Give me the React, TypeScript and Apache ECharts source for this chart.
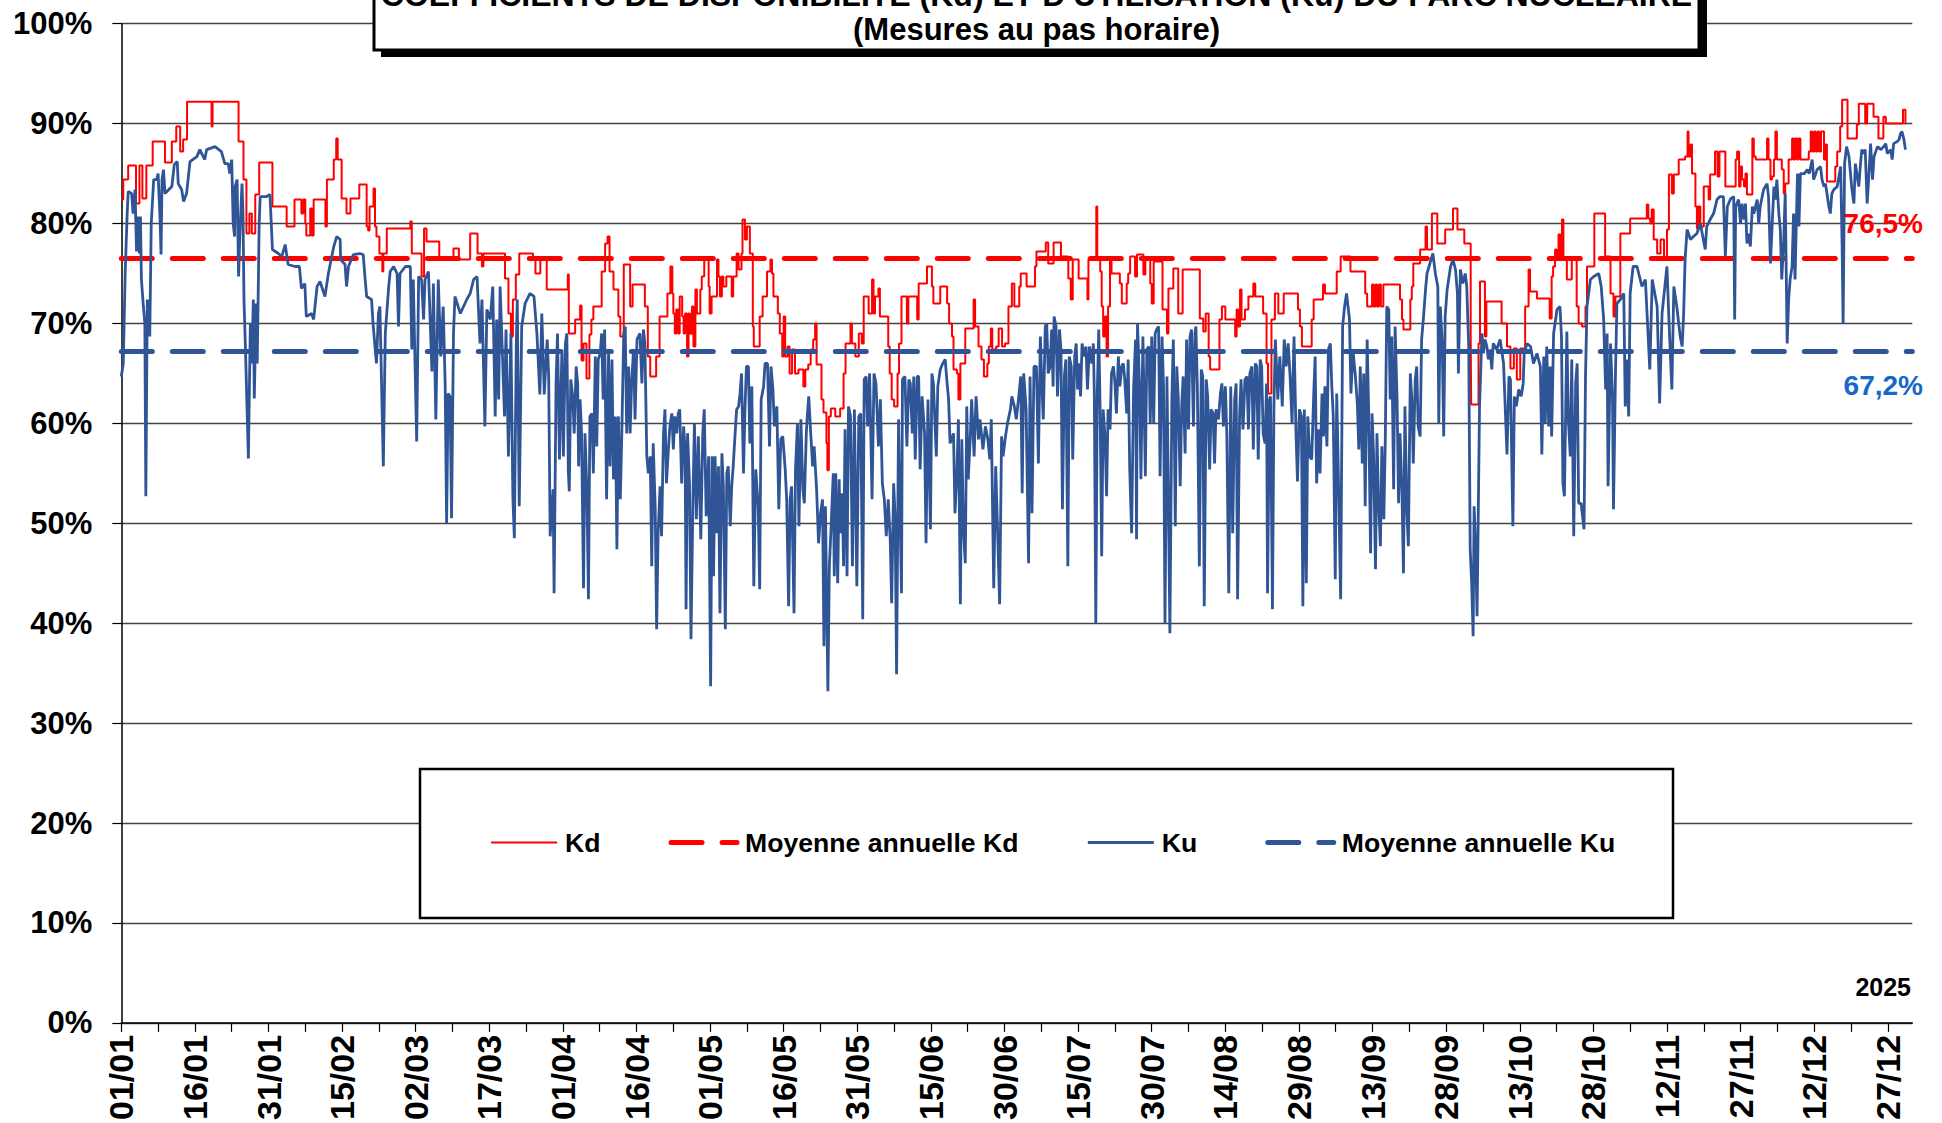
import React, { useEffect, useRef } from 'react';
import * as echarts from 'echarts';

const FONT = "'Liberation Sans', Arial, Helvetica, sans-serif";

const titleLine1 = "COEFFICIENTS DE DISPONIBILITE (Kd) ET D'UTILISATION (Ku) DU PARC NUCLEAIRE";
const titleLine2 = '(Mesures au pas horaire)';
const yearLabel = '2025';

const xTickLabels = ['01/01', '16/01', '31/01', '15/02', '02/03', '17/03', '01/04', '16/04', '01/05', '16/05', '31/05', '15/06', '30/06', '15/07', '30/07', '14/08', '29/08', '13/09', '28/09', '13/10', '28/10', '12/11', '27/11', '12/12', '27/12'];
const yTickValues = [0, 10, 20, 30, 40, 50, 60, 70, 80, 90, 100];

const seriesNames = ['Kd', 'Moyenne annuelle Kd', 'Ku', 'Moyenne annuelle Ku'];
const meanKd = 76.5;
const meanKu = 67.2;

// [day of year, %]
const kdPoints: [number, number][] = [[0,82.4],[0.4,84.4],[1.4,85.8],[3.0,82.0],[3.7,85.8],[4.3,82.5],[5.1,85.8],[6.4,88.2],[8.9,86.1],[10.3,88.2],[11.2,89.7],[12.0,87.2],[12.6,88.4],[13.4,92.2],[18.4,89.7],[18.6,92.2],[23.9,88.2],[24.9,84.4],[25.5,79.0],[26.1,81.0],[26.6,79.0],[27.3,82.9],[28.1,86.1],[30.8,81.7],[33.7,79.7],[35.3,82.4],[36.7,81.0],[37.1,82.4],[37.5,80.0],[37.7,78.8],[38.5,81.5],[38.8,78.8],[39.2,82.4],[41.6,79.7],[41.9,84.4],[43.3,86.4],[43.8,88.5],[44.1,86.4],[44.9,82.5],[45.9,81.0],[46.7,82.5],[48.5,83.9],[50.0,79.7],[50.3,79.3],[50.6,81.7],[51.4,83.5],[51.7,79.7],[52.0,78.7],[52.6,77.0],[53.2,75.2],[53.4,77.0],[54.1,79.5],[58.9,80.2],[59.2,77.0],[61.2,74.7],[61.7,79.5],[62.2,78.2],[64.8,76.4],[67.7,77.5],[68.8,76.4],[71.1,79.0],[72.6,77.0],[73.5,75.7],[73.8,77.0],[78.2,74.5],[78.9,71.0],[79.4,68.7],[79.8,72.4],[80.4,74.9],[81.1,77.0],[83.9,76.4],[84.4,75.0],[85.4,76.4],[86.7,73.4],[91.0,74.9],[91.2,69.0],[92.5,70.4],[93.5,71.8],[93.8,66.3],[94.2,68.0],[94.8,64.5],[95.4,68.9],[95.8,70.4],[96.2,71.7],[97.9,75.2],[98.6,78.0],[99.1,78.7],[99.5,75.2],[100.3,73.4],[101.3,70.7],[101.7,68.7],[102.4,75.9],[103.7,71.7],[104.2,73.9],[106.7,71.7],[107.3,66.7],[107.8,64.7],[109.0,66.7],[109.7,70.7],[111.3,73.0],[111.9,75.7],[112.3,73.0],[112.5,71.0],[112.8,69.0],[113.1,71.4],[113.5,69.0],[113.8,72.7],[114.3,70.7],[114.6,69.0],[114.9,71.0],[115.3,66.7],[115.6,71.0],[115.9,69.0],[116.3,71.7],[116.6,67.7],[117.0,73.4],[117.3,71.0],[118.0,73.4],[118.3,74.7],[118.8,76.4],[119.7,73.7],[119.9,71.0],[120.3,72.7],[121.4,76.4],[121.7,74.7],[122.0,72.7],[122.4,74.7],[122.7,73.7],[123.3,74.7],[124.4,72.7],[124.7,74.7],[125.4,77.0],[125.8,75.4],[126.4,77.0],[126.6,80.4],[127.1,78.4],[127.5,79.7],[128.1,77.0],[128.7,69.7],[128.9,67.7],[130.1,70.7],[130.7,72.7],[131.6,75.2],[132.3,76.4],[132.6,75.0],[132.9,72.7],[133.8,71.0],[134.2,69.0],[134.7,66.7],[135.0,70.7],[135.3,66.7],[135.8,67.7],[136.2,65.0],[136.7,67.4],[137.3,65.0],[138.0,65.4],[139.0,63.7],[139.4,65.4],[140.0,65.9],[140.5,67.4],[141.0,68.4],[141.4,70.0],[141.7,65.9],[142.7,62.4],[143.1,61.1],[143.7,58.0],[143.9,55.3],[144.2,60.7],[144.6,61.5],[145.5,60.7],[146.5,61.5],[147.2,65.0],[147.6,68.0],[148.6,70.0],[148.9,68.0],[149.6,66.7],[150.3,69.0],[150.9,68.0],[151.3,72.7],[152.3,71.0],[153.0,74.4],[153.3,71.0],[153.6,72.7],[154.3,73.5],[154.6,70.7],[156.3,67.7],[156.6,65.0],[157.0,62.4],[157.5,61.7],[158.2,65.0],[158.5,68.0],[159.0,72.7],[160.1,70.0],[160.4,72.7],[162.2,70.4],[162.5,74.0],[164.2,75.7],[165.2,73.7],[165.5,72.0],[166.9,73.7],[168.3,72.0],[168.7,70.0],[169.3,68.7],[169.6,65.4],[170.3,65.0],[170.6,62.4],[171.0,66.0],[172.0,69.5],[173.7,72.4],[174.0,69.7],[174.7,67.7],[175.3,66.4],[175.8,64.7],[176.5,66.0],[176.8,67.7],[177.2,69.5],[177.5,67.4],[178.3,67.7],[178.8,69.5],[179.5,67.7],[180.1,68.0],[180.8,71.7],[181.5,74.0],[182.0,71.7],[183.0,73.7],[183.3,75.0],[184.5,73.7],[186.2,75.7],[186.5,77.2],[188.4,78.1],[188.9,76.0],[190.0,78.1],[191.5,76.7],[193.0,74.5],[193.5,72.4],[193.9,76.4],[195.1,74.5],[196.9,72.4],[197.1,76.4],[198.7,81.7],[198.9,76.4],[199.5,75.2],[199.8,71.7],[200.1,68.7],[200.5,70.7],[200.8,66.7],[201.1,71.7],[201.5,76.2],[201.8,75.0],[203.5,74.0],[203.9,72.0],[204.9,74.0],[205.2,75.0],[205.6,76.7],[206.6,74.7],[207.0,76.9],[208.3,74.9],[208.7,76.4],[209.7,74.0],[210.0,72.0],[210.4,76.2],[212.2,71.4],[213.1,69.0],[213.4,73.5],[214.4,75.5],[215.4,71.0],[216.3,75.4],[219.8,70.5],[220.5,69.2],[221.0,71.0],[221.6,66.7],[221.9,65.4],[223.8,70.4],[224.3,71.7],[225.0,70.4],[227.0,68.7],[227.3,71.4],[227.6,69.7],[228.0,73.4],[228.3,70.4],[229.0,71.4],[229.7,72.7],[230.7,74.0],[231.1,72.7],[232.7,71.0],[233.4,66.0],[233.7,63.0],[234.4,70.4],[235.1,73.0],[235.8,71.0],[236.9,73.0],[239.8,71.4],[240.2,69.7],[240.6,67.7],[242.6,70.4],[243.0,72.4],[244.9,73.9],[245.3,73.0],[247.7,75.2],[248.5,76.7],[250.5,75.2],[253.5,73.0],[253.9,71.7],[254.9,73.9],[255.2,71.7],[255.6,73.9],[255.9,71.7],[256.3,73.9],[256.7,71.7],[257.2,73.9],[260.6,72.4],[261.0,70.4],[261.3,69.4],[262.7,72.4],[263.0,73.7],[263.3,76.0],[264.7,77.4],[265.8,79.7],[266.1,77.4],[267.1,81.0],[268.2,78.0],[269.8,79.4],[271.4,81.5],[272.3,79.4],[273.7,78.0],[275.0,68.7],[275.1,61.9],[276.6,68.0],[276.9,74.2],[277.9,68.7],[278.2,72.2],[281.3,70.0],[282.4,67.7],[283.1,65.5],[283.8,67.5],[284.4,64.4],[285.1,67.5],[286.1,71.7],[286.8,75.4],[287.1,73.2],[288.5,72.5],[291.1,70.5],[291.5,74.7],[291.8,75.7],[292.2,77.4],[292.5,76.4],[292.9,78.9],[293.3,76.7],[293.6,80.4],[293.9,76.4],[294.6,74.4],[295.6,76.4],[296.6,71.7],[297.0,70.0],[297.7,69.7],[298.4,71.7],[298.7,75.7],[300.2,81.0],[302.4,76.7],[303.5,73.0],[304.1,70.7],[304.5,72.7],[305.5,79.0],[307.5,80.5],[310.9,81.9],[311.2,80.5],[311.6,80.0],[311.9,81.4],[312.3,78.4],[313.0,77.0],[313.7,78.4],[314.4,76.4],[315.0,79.4],[315.4,84.9],[316.0,83.0],[316.4,84.9],[317.4,86.4],[318.7,86.7],[319.2,89.2],[319.4,86.7],[319.8,87.9],[320.1,85.0],[320.8,81.7],[321.1,79.5],[321.4,81.7],[321.8,79.7],[322.5,83.7],[323.5,82.4],[323.8,84.9],[324.8,87.2],[325.3,84.7],[325.7,87.2],[326.9,83.7],[329.0,86.4],[329.3,87.2],[329.7,83.7],[330.0,85.7],[330.3,84.4],[330.7,83.7],[331.0,85.0],[331.3,82.9],[332.4,88.5],[332.7,86.7],[333.1,86.4],[335.4,88.5],[335.7,86.4],[336.1,84.4],[336.4,84.7],[336.8,86.4],[337.1,89.2],[337.4,86.4],[338.4,85.4],[338.8,83.0],[339.1,84.0],[339.8,86.4],[340.5,88.5],[340.8,86.4],[341.1,88.5],[341.5,86.4],[341.8,88.5],[342.2,86.4],[343.9,87.2],[344.3,89.2],[344.6,87.2],[345.0,89.2],[345.3,87.2],[345.7,89.2],[346.0,87.2],[346.4,89.2],[347.0,86.4],[347.3,87.9],[347.6,84.2],[349.3,85.7],[349.7,87.2],[350.3,89.7],[350.7,92.4],[351.8,88.5],[353.7,89.9],[354.1,92.0],[355.4,90.0],[355.8,92.0],[357.1,90.7],[358.1,88.5],[359.1,90.7],[359.6,90.0],[363.1,91.4],[363.6,90.0],[363.8,90.0]];

const kuPoints: [number, number][] = [[0,64.7],[0.4,66.0],[0.8,75.2],[1.2,81.0],[1.4,83.2],[2.1,83.0],[2.4,81.0],[2.8,83.4],[3.1,77.2],[3.5,80.7],[3.7,77.0],[3.9,80.7],[4.1,74.4],[4.5,71.7],[4.8,70.0],[5.0,52.7],[5.3,72.4],[5.8,68.7],[6.1,80.0],[6.6,84.4],[7.2,84.4],[7.5,85.0],[7.9,80.4],[8.1,76.9],[8.3,84.4],[8.6,85.4],[8.9,83.0],[10.3,83.7],[10.8,85.9],[11.4,86.2],[11.6,84.0],[12.3,83.4],[12.7,82.2],[13.3,83.0],[14.0,86.2],[15.4,86.7],[16.0,87.4],[17.0,86.4],[17.4,87.4],[19.1,87.7],[20.4,87.2],[21.1,86.0],[21.8,86.0],[22.1,85.0],[22.5,86.4],[22.8,80.0],[23.1,78.7],[23.2,83.7],[23.6,84.4],[23.9,74.7],[24.2,79.4],[24.6,84.0],[24.8,81.0],[25.0,72.4],[25.3,67.5],[25.9,56.5],[26.3,70.0],[26.6,66.0],[26.9,72.4],[27.1,62.5],[27.5,72.0],[27.7,66.0],[28.1,80.0],[28.3,82.7],[29.6,82.7],[30.3,82.9],[30.8,77.4],[32.0,77.0],[32.7,76.7],[33.4,77.9],[34.0,75.9],[35.4,75.7],[36.3,75.7],[36.7,73.5],[37.4,74.0],[37.7,70.7],[38.8,71.0],[39.2,70.4],[39.9,73.7],[40.5,74.2],[41.5,72.7],[42.2,75.0],[43.3,77.7],[43.9,78.7],[44.6,78.4],[44.7,76.4],[45.6,75.9],[45.9,73.7],[46.3,75.7],[47.3,76.9],[48.6,77.0],[49.3,76.9],[49.7,74.4],[50.0,72.7],[51.0,72.4],[51.3,70.0],[51.7,67.7],[52.0,66.0],[52.4,71.0],[52.7,71.7],[53.4,55.7],[53.8,69.0],[54.5,73.7],[54.8,75.2],[55.5,75.7],[56.2,75.0],[56.5,69.7],[56.8,75.0],[57.9,75.7],[58.9,75.7],[59.2,67.4],[59.5,74.4],[60.2,58.2],[60.6,74.7],[61.2,74.4],[61.6,70.4],[61.9,74.4],[62.6,75.2],[63.3,65.2],[63.6,74.0],[64.1,60.4],[64.6,74.4],[65.1,66.7],[65.6,71.7],[66.0,64.0],[66.3,50.0],[66.6,63.0],[67.0,62.7],[67.3,50.5],[67.7,69.0],[68.0,72.7],[69.1,71.0],[70.4,72.4],[71.1,73.0],[71.8,74.4],[72.5,74.7],[73.1,68.0],[73.5,72.4],[74.1,59.7],[74.5,71.4],[75.2,70.4],[75.7,73.7],[76.2,60.7],[76.5,70.4],[76.9,62.4],[77.2,73.7],[78.1,60.7],[78.4,69.4],[78.9,56.7],[79.4,69.0],[79.8,52.7],[80.1,48.5],[80.5,68.0],[80.7,72.4],[81.1,51.7],[81.6,69.7],[82.3,72.0],[83.3,73.0],[84.1,72.7],[84.7,69.0],[85.3,62.9],[85.7,71.0],[86.2,62.9],[86.8,68.4],[87.1,64.7],[87.4,48.7],[88.0,53.4],[88.2,43.0],[88.6,64.0],[88.9,69.0],[89.3,56.4],[89.8,67.4],[90.1,56.7],[90.5,68.0],[90.8,69.0],[91.1,55.2],[91.3,53.2],[91.6,64.4],[92.0,62.7],[92.3,59.0],[92.7,65.7],[93.0,64.0],[93.2,55.7],[93.5,62.4],[93.8,59.0],[94.2,43.5],[94.5,59.0],[94.9,53.0],[95.2,42.4],[95.5,60.7],[95.9,61.0],[96.2,55.0],[96.6,66.7],[96.9,57.7],[97.2,66.4],[97.6,67.0],[97.9,69.0],[98.2,62.4],[98.5,69.4],[98.9,52.4],[99.3,67.0],[99.6,55.7],[100.0,66.4],[100.3,54.4],[100.7,60.7],[101.0,47.4],[101.3,60.7],[101.7,52.4],[102.0,59.0],[102.4,69.0],[102.7,69.7],[103.0,59.0],[103.4,65.7],[103.7,59.0],[104.0,64.0],[104.4,67.4],[104.7,60.4],[105.1,68.4],[105.7,69.0],[106.1,64.0],[106.4,69.4],[106.7,68.0],[107.1,56.7],[107.4,55.0],[107.8,56.7],[108.1,45.7],[108.4,58.0],[108.8,51.7],[109.1,39.4],[109.4,49.0],[109.8,53.7],[110.1,48.7],[110.5,59.0],[110.8,61.4],[111.1,54.0],[111.5,57.4],[111.8,59.7],[112.2,61.0],[112.5,57.4],[112.8,60.7],[113.2,59.0],[113.5,61.0],[113.8,61.4],[114.2,54.0],[114.6,59.7],[114.9,57.4],[115.1,41.4],[115.4,59.0],[115.8,54.0],[116.1,38.4],[116.5,52.4],[116.8,60.0],[117.2,50.4],[117.6,58.7],[118.1,48.4],[118.5,59.0],[118.8,61.4],[119.2,50.7],[119.7,56.7],[120.1,33.7],[120.4,56.7],[120.7,44.7],[121.0,56.7],[121.4,49.0],[121.7,55.7],[122.0,41.0],[122.4,57.0],[122.7,53.7],[123.1,39.4],[123.4,55.0],[123.7,55.7],[124.1,49.7],[124.4,53.7],[124.7,55.7],[125.1,59.0],[125.4,61.4],[125.8,61.7],[126.1,63.0],[126.4,65.0],[126.8,55.0],[127.1,61.4],[127.4,65.7],[127.8,65.7],[128.1,58.0],[128.5,63.7],[128.9,43.7],[129.3,55.4],[129.8,51.7],[130.1,43.4],[130.4,62.4],[130.9,63.7],[131.2,66.0],[131.7,66.0],[132.1,57.7],[132.4,65.7],[132.8,63.4],[133.1,59.7],[133.6,61.7],[134.0,51.4],[134.4,58.4],[134.8,58.7],[135.3,55.4],[135.6,52.4],[136.0,41.7],[136.3,52.4],[136.6,53.7],[137.1,41.0],[137.4,55.4],[137.8,60.0],[138.1,49.7],[138.5,60.4],[138.9,53.4],[139.2,52.0],[139.6,59.0],[139.8,60.7],[140.1,62.7],[140.5,59.0],[140.9,55.7],[141.2,57.7],[141.7,53.4],[142.1,48.0],[142.5,51.0],[142.9,52.4],[143.2,37.7],[143.5,51.7],[144.0,33.2],[144.3,45.7],[144.6,49.0],[145.1,55.0],[145.3,44.7],[145.6,55.0],[146.0,44.0],[146.3,54.4],[146.5,49.0],[146.9,53.0],[147.2,45.7],[147.5,59.4],[147.9,44.7],[148.2,61.7],[148.6,60.7],[149.0,45.7],[149.4,61.4],[149.9,43.7],[150.3,60.7],[150.7,61.0],[151.1,40.4],[151.4,64.4],[151.8,64.7],[152.1,59.7],[152.5,65.0],[153.0,52.4],[153.4,65.0],[153.8,64.0],[154.3,57.7],[154.7,62.4],[155.1,54.0],[155.5,52.4],[155.9,48.7],[156.3,52.4],[156.7,48.4],[157.0,42.0],[157.4,54.0],[157.7,50.7],[158.0,34.9],[158.4,60.4],[158.7,51.0],[159.0,43.0],[159.2,64.4],[159.7,64.7],[160.1,57.7],[160.5,64.4],[160.8,64.0],[161.2,59.0],[161.5,64.7],[161.8,56.4],[162.2,64.7],[162.5,64.7],[162.8,55.4],[163.2,62.7],[163.7,59.0],[164.0,48.0],[164.4,62.4],[164.9,49.4],[165.2,65.0],[165.5,64.0],[166.1,56.7],[166.4,63.7],[166.9,65.4],[167.4,66.0],[167.9,66.4],[168.3,64.0],[168.6,62.4],[168.9,58.0],[169.6,59.0],[169.9,51.0],[170.3,55.0],[170.6,60.4],[171.0,41.9],[171.3,58.4],[171.6,49.7],[172.0,46.0],[172.3,61.7],[172.6,54.4],[173.0,58.4],[173.3,62.4],[173.8,56.7],[174.2,62.7],[174.7,58.4],[175.0,60.4],[175.6,57.4],[176.1,59.7],[176.6,58.4],[177.0,56.4],[177.3,60.4],[177.8,43.5],[178.2,55.7],[178.6,49.0],[179.0,41.9],[179.4,58.7],[179.7,56.7],[180.2,58.7],[180.6,60.0],[181.2,61.4],[181.5,62.7],[182.0,61.7],[182.4,60.4],[182.9,62.7],[183.3,64.7],[183.6,53.0],[183.9,65.0],[184.4,61.4],[184.9,46.0],[185.2,64.7],[185.6,51.0],[186.0,65.7],[186.5,65.7],[186.9,56.0],[187.3,68.7],[187.6,64.0],[187.9,60.4],[188.3,69.7],[188.6,70.0],[188.9,65.0],[189.3,65.7],[189.6,69.4],[189.9,63.7],[190.1,70.7],[190.5,69.7],[190.8,62.7],[191.2,69.4],[191.5,67.4],[191.8,51.4],[192.2,64.7],[192.5,66.4],[192.9,45.7],[193.2,66.7],[193.6,65.7],[193.9,56.4],[194.3,66.7],[194.6,68.0],[194.9,63.4],[195.1,66.0],[195.5,62.7],[195.8,68.0],[196.2,66.7],[196.6,67.7],[196.9,63.4],[197.3,67.7],[197.8,66.0],[198.1,68.0],[198.3,63.0],[198.6,40.0],[198.9,63.0],[199.2,69.4],[199.5,60.7],[199.8,46.7],[200.1,61.4],[200.5,58.4],[200.8,52.7],[201.1,61.4],[201.5,59.4],[201.8,65.0],[202.2,65.7],[202.5,64.0],[202.8,61.0],[203.2,66.7],[203.5,63.7],[203.9,65.7],[204.2,66.0],[204.5,64.4],[204.9,61.0],[205.2,66.4],[205.5,55.7],[205.9,49.0],[206.3,63.4],[206.7,68.4],[206.9,48.4],[207.1,70.0],[207.5,64.0],[207.8,54.4],[208.2,68.7],[208.7,54.7],[209.0,67.4],[209.4,67.7],[209.7,60.0],[210.0,68.7],[210.4,60.0],[210.7,69.0],[211.0,69.4],[211.4,69.7],[211.7,54.7],[212.1,68.7],[212.4,63.7],[212.7,40.0],[213.1,64.7],[213.4,52.4],[213.7,39.0],[214.1,62.4],[214.4,68.4],[214.8,49.7],[215.1,65.7],[215.4,62.7],[215.8,53.7],[216.1,61.7],[216.4,64.7],[216.8,57.0],[217.1,68.4],[217.5,59.4],[217.8,68.7],[218.1,69.4],[218.5,59.7],[218.8,69.0],[219.0,69.7],[219.3,63.7],[219.7,45.7],[220.1,65.4],[220.4,64.7],[220.7,41.7],[221.1,64.4],[221.4,62.7],[221.8,55.4],[222.1,61.4],[222.5,61.0],[222.8,56.0],[223.1,61.4],[223.6,60.4],[224.0,63.0],[224.3,64.0],[224.6,59.7],[225.0,63.7],[225.3,59.0],[225.7,43.0],[226.1,63.7],[226.5,49.0],[226.9,62.4],[227.2,64.0],[227.5,42.4],[227.9,60.7],[228.2,64.4],[228.6,59.4],[229.0,64.4],[229.4,64.7],[229.7,59.4],[230.0,65.0],[230.4,65.7],[230.7,57.4],[231.1,66.0],[231.4,65.7],[231.7,56.4],[232.1,66.4],[232.4,65.7],[232.7,59.0],[233.1,58.0],[233.4,64.0],[233.6,43.0],[234.0,62.4],[234.2,62.7],[234.6,41.4],[234.9,61.7],[235.2,68.4],[235.7,62.4],[236.1,66.7],[236.6,61.7],[237.0,68.4],[237.4,65.7],[237.8,68.0],[238.2,64.7],[238.6,60.0],[239.0,68.7],[239.4,59.0],[239.7,54.2],[240.1,61.4],[240.5,60.7],[240.8,41.7],[241.1,61.4],[241.5,44.0],[241.8,60.7],[242.2,56.7],[242.6,56.4],[243.0,62.7],[243.3,66.7],[243.6,54.0],[244.0,59.4],[244.3,55.0],[244.7,63.0],[245.0,58.7],[245.3,63.7],[245.7,57.7],[246.0,67.4],[246.4,68.0],[246.7,63.7],[247.0,60.7],[247.4,44.4],[247.7,63.0],[248.0,55.7],[248.5,42.4],[248.9,69.7],[249.3,71.7],[249.7,73.0],[250.3,70.4],[250.6,63.0],[251.0,67.4],[251.5,64.7],[251.9,62.0],[252.2,57.4],[252.5,65.7],[252.9,56.0],[253.2,65.0],[253.5,51.7],[253.9,68.4],[254.2,61.4],[254.6,47.0],[254.9,61.0],[255.2,57.0],[255.6,45.4],[255.9,59.0],[256.2,52.4],[256.6,47.7],[256.9,57.7],[257.3,50.4],[257.6,58.4],[257.9,71.7],[258.3,71.4],[258.6,62.4],[258.9,68.7],[259.3,53.4],[259.6,69.7],[260.0,62.4],[260.3,52.0],[260.6,59.0],[261.0,53.0],[261.3,45.0],[261.6,61.7],[262.0,51.0],[262.3,47.7],[262.7,65.0],[263.0,62.4],[263.3,56.0],[263.7,64.4],[264.0,65.7],[264.3,59.7],[264.7,58.7],[265.0,68.4],[265.4,70.7],[265.8,73.4],[266.1,75.0],[266.8,76.2],[267.3,77.0],[267.8,75.0],[268.3,73.7],[268.5,60.0],[268.8,71.7],[269.2,68.0],[269.5,58.7],[269.8,70.7],[270.2,73.4],[270.9,75.7],[271.4,76.4],[271.9,75.4],[272.3,73.0],[272.5,65.0],[272.9,75.4],[273.4,74.0],[273.9,75.0],[274.2,73.7],[274.6,67.7],[274.9,47.4],[275.2,44.0],[275.5,38.7],[275.7,51.7],[276.0,47.7],[276.3,40.7],[276.5,49.0],[276.8,61.7],[277.3,69.0],[277.6,67.0],[277.9,68.4],[278.3,67.7],[278.6,66.4],[279.0,67.4],[279.3,65.4],[279.6,68.0],[280.3,67.4],[281.0,68.4],[281.7,66.0],[282.4,56.9],[282.8,64.7],[283.1,64.4],[283.6,49.7],[283.9,62.7],[284.3,61.7],[284.8,63.4],[285.3,62.7],[285.7,64.0],[285.9,67.0],[286.5,68.0],[287.2,67.7],[287.8,66.0],[288.5,67.0],[289.2,65.7],[289.5,56.9],[289.9,66.7],[290.2,60.0],[290.5,67.7],[290.9,59.7],[291.2,65.7],[291.5,58.7],[291.9,69.0],[292.6,71.4],[293.2,71.7],[293.5,68.7],[293.8,54.0],[294.1,52.7],[294.6,69.2],[294.9,60.4],[295.3,56.7],[295.6,66.4],[296.0,48.7],[296.4,64.0],[296.7,66.0],[297.0,52.0],[297.5,52.0],[298.1,49.4],[298.4,64.7],[298.7,71.7],[299.4,74.4],[300.1,74.7],[301.1,75.0],[301.6,73.7],[302.1,70.4],[302.5,63.4],[302.8,69.0],[303.0,53.7],[303.5,68.0],[303.9,62.7],[304.1,51.4],[304.5,64.7],[304.8,72.0],[305.5,72.4],[306.2,73.0],[306.5,61.7],[306.8,66.4],[307.2,60.7],[307.5,73.0],[308.1,75.7],[308.9,75.7],[309.9,73.7],[310.6,74.4],[311.5,65.4],[312.0,74.4],[313.0,71.7],[313.5,62.0],[314.0,71.0],[315.0,75.7],[315.4,70.4],[316.0,63.4],[316.4,73.7],[317.0,71.7],[317.7,68.7],[318.1,67.7],[318.4,71.0],[318.7,76.4],[319.1,79.4],[319.8,78.4],[320.4,78.7],[321.1,79.0],[321.8,80.0],[322.8,77.4],[323.1,79.7],[323.8,80.4],[324.5,81.0],[325.2,82.4],[325.8,82.7],[326.5,82.7],[326.9,76.7],[327.3,81.7],[328.0,82.5],[328.6,82.7],[328.8,70.4],[329.0,81.7],[329.6,82.4],[330.0,80.0],[330.3,82.0],[330.7,80.4],[331.0,82.0],[331.3,78.0],[331.7,79.0],[332.0,77.7],[332.4,81.7],[332.7,81.0],[333.4,82.4],[333.7,80.0],[334.0,81.7],[334.7,83.4],[335.4,84.0],[335.7,82.7],[336.1,76.0],[336.4,79.4],[336.8,83.7],[337.1,82.4],[337.4,84.4],[337.8,81.0],[338.1,79.4],[338.4,74.4],[338.8,78.4],[339.1,83.0],[339.5,68.0],[339.8,72.4],[340.1,74.4],[340.5,75.7],[340.8,81.0],[341.1,74.4],[341.6,85.0],[341.9,79.7],[342.2,85.0],[343.0,85.0],[343.6,85.4],[344.0,85.0],[344.6,86.4],[344.9,84.4],[345.6,85.4],[346.3,85.7],[346.6,84.4],[347.0,83.7],[347.3,84.0],[348.0,81.7],[348.3,81.0],[348.6,83.0],[349.0,83.4],[349.7,83.7],[350.4,85.7],[350.7,77.7],[350.9,70.0],[351.2,86.0],[351.6,87.7],[352.1,86.7],[352.4,85.0],[352.7,83.4],[353.1,82.0],[353.4,86.0],[353.7,85.0],[354.1,83.7],[354.4,85.7],[354.7,87.4],[355.1,87.0],[355.4,87.4],[355.8,82.0],[356.1,84.4],[356.5,88.0],[356.9,84.4],[357.2,86.7],[357.9,87.7],[358.6,87.4],[359.2,87.7],[359.6,88.0],[359.9,87.0],[360.6,87.4],[360.9,86.4],[361.2,88.0],[361.9,88.2],[362.3,88.4],[362.6,89.0],[362.9,89.2],[363.3,88.4],[363.6,87.4]];

const RED = '#FF0000';
const BLUE = '#2F5597';
const BLUE_TEXT = '#1469C8';
const DASH = [31, 20];

const fmtPct = (v: number) => `${v.toFixed(1).replace('.', ',')}%`;

export default function App() {
  const ref = useRef<HTMLDivElement>(null);
  useEffect(() => {
    if (!ref.current) return;
    const chart = echarts.init(ref.current, null, { renderer: 'svg' });
    const xLabelDays = xTickLabels.map((_, i) => i * 15);
    const xTickDays = Array.from({ length: xTickLabels.length * 2 - 1 }, (_, i) => i * 7.5);
    chart.setOption({
      animation: false,
      backgroundColor: '#fff',
      textStyle: { fontFamily: FONT },
      grid: { left: 121.3, right: 29.7, top: 23.7, bottom: 99.6 },
      xAxis: {
        type: 'value',
        min: 0,
        max: 365,
        axisLine: { show: true, onZero: false, lineStyle: { color: '#000', width: 1.5 } },
        axisTick: { show: true, length: 9, lineStyle: { color: '#000', width: 1.2 }, customValues: xTickDays },
        axisLabel: {
          customValues: xLabelDays,
          rotate: 90,
          margin: 12,
          color: '#000',
          fontSize: 34,
          fontWeight: 'bold',
          fontFamily: FONT,
          formatter: (v: number) => xTickLabels[Math.round(v / 15)] ?? '',
        },
        splitLine: { show: false },
      },
      yAxis: {
        type: 'value',
        min: yTickValues[0],
        max: yTickValues[yTickValues.length - 1],
        interval: 10,
        axisLine: { show: true, lineStyle: { color: '#000', width: 1.5 } },
        axisTick: { show: true, length: 9, lineStyle: { color: '#000', width: 1.2 } },
        axisLabel: {
          margin: 29,
          color: '#000',
          fontSize: 31,
          fontWeight: 'bold',
          fontFamily: FONT,
          formatter: (v: number) => `${v}%`,
        },
        splitLine: { show: true, lineStyle: { color: '#444', width: 1.4 } },
      },
      legend: {
        left: 490,
        top: 829,
        padding: 0,
        itemWidth: 66,
        itemHeight: 14,
        itemGap: 68,
        z: 5,
        selectedMode: false,
        data: [
          { name: seriesNames[0], lineStyle: { width: 2.2, color: RED } },
          { name: seriesNames[1], lineStyle: { width: 5, color: RED, type: DASH, cap: 'round' } },
          { name: seriesNames[2], lineStyle: { width: 2.8, color: BLUE } },
          { name: seriesNames[3], lineStyle: { width: 5, color: BLUE, type: DASH, cap: 'round' } },
        ],
        itemStyle: { opacity: 0 },
        textStyle: { fontSize: 26.6, fontWeight: 'bold', color: '#000', fontFamily: FONT, padding: [0, 0, 0, 3] },
      },
      series: [
        {
          name: seriesNames[0],
          type: 'line',
          step: 'end',
          data: kdPoints,
          symbol: 'none',
          z: 2,
          lineStyle: { color: RED, width: 2 },
          itemStyle: { color: RED },
        },
        {
          name: seriesNames[1],
          type: 'line',
          data: [[0, meanKd], [365, meanKd]],
          symbol: 'none',
          z: 3,
          lineStyle: { color: RED, width: 5, type: DASH, cap: 'round' },
          itemStyle: { color: RED },
          markPoint: {
            symbol: 'circle',
            symbolSize: 0,
            silent: true,
            data: [{ coord: [365, meanKd] }],
            label: { show: true, position: 'inside', offset: [-29, -35], formatter: () => fmtPct(meanKd), color: RED, fontSize: 28, fontWeight: 'bold', fontFamily: FONT },
          },
        },
        {
          name: seriesNames[2],
          type: 'line',
          data: kuPoints,
          symbol: 'none',
          z: 3,
          lineStyle: { color: BLUE, width: 2.8 },
          itemStyle: { color: BLUE },
        },
        {
          name: seriesNames[3],
          type: 'line',
          data: [[0, meanKu], [365, meanKu]],
          symbol: 'none',
          z: 4,
          lineStyle: { color: BLUE, width: 5, type: DASH, cap: 'round' },
          itemStyle: { color: BLUE },
          markPoint: {
            symbol: 'circle',
            symbolSize: 0,
            silent: true,
            data: [{ coord: [365, meanKu] }],
            label: { show: true, position: 'inside', offset: [-29, 34], formatter: () => fmtPct(meanKu), color: BLUE_TEXT, fontSize: 28, fontWeight: 'bold', fontFamily: FONT },
          },
        },
      ],
      graphic: [
        { type: 'rect', z: 3, shape: { x: 420, y: 769, width: 1253, height: 149 }, style: { fill: '#fff', stroke: '#000', lineWidth: 2.5 } },
        { type: 'rect', z: 10, shape: { x: 381, y: -10, width: 1326, height: 67 }, style: { fill: '#000' } },
        { type: 'rect', z: 11, shape: { x: 374, y: -10, width: 1325, height: 60 }, style: { fill: '#fff', stroke: '#000', lineWidth: 3 } },
        { type: 'text', z: 12, x: 1036.5, y: -5, style: { text: titleLine1, fill: '#000', fontSize: 32, fontWeight: 'bold', fontFamily: FONT, align: 'center', verticalAlign: 'middle' } },
        { type: 'text', z: 12, x: 1036.5, y: 29, style: { text: titleLine2, fill: '#000', fontSize: 31, fontWeight: 'bold', fontFamily: FONT, align: 'center', verticalAlign: 'middle' } },
        { type: 'text', z: 12, x: 1911, y: 987, style: { text: yearLabel, fill: '#000', fontSize: 25, fontWeight: 'bold', fontFamily: FONT, align: 'right', verticalAlign: 'middle' } },
      ],
    });
    return () => chart.dispose();
  }, []);
  return <div ref={ref} style={{ position: 'absolute', left: 0, top: 0, width: 1942, height: 1123, background: '#fff' }} />;
}
